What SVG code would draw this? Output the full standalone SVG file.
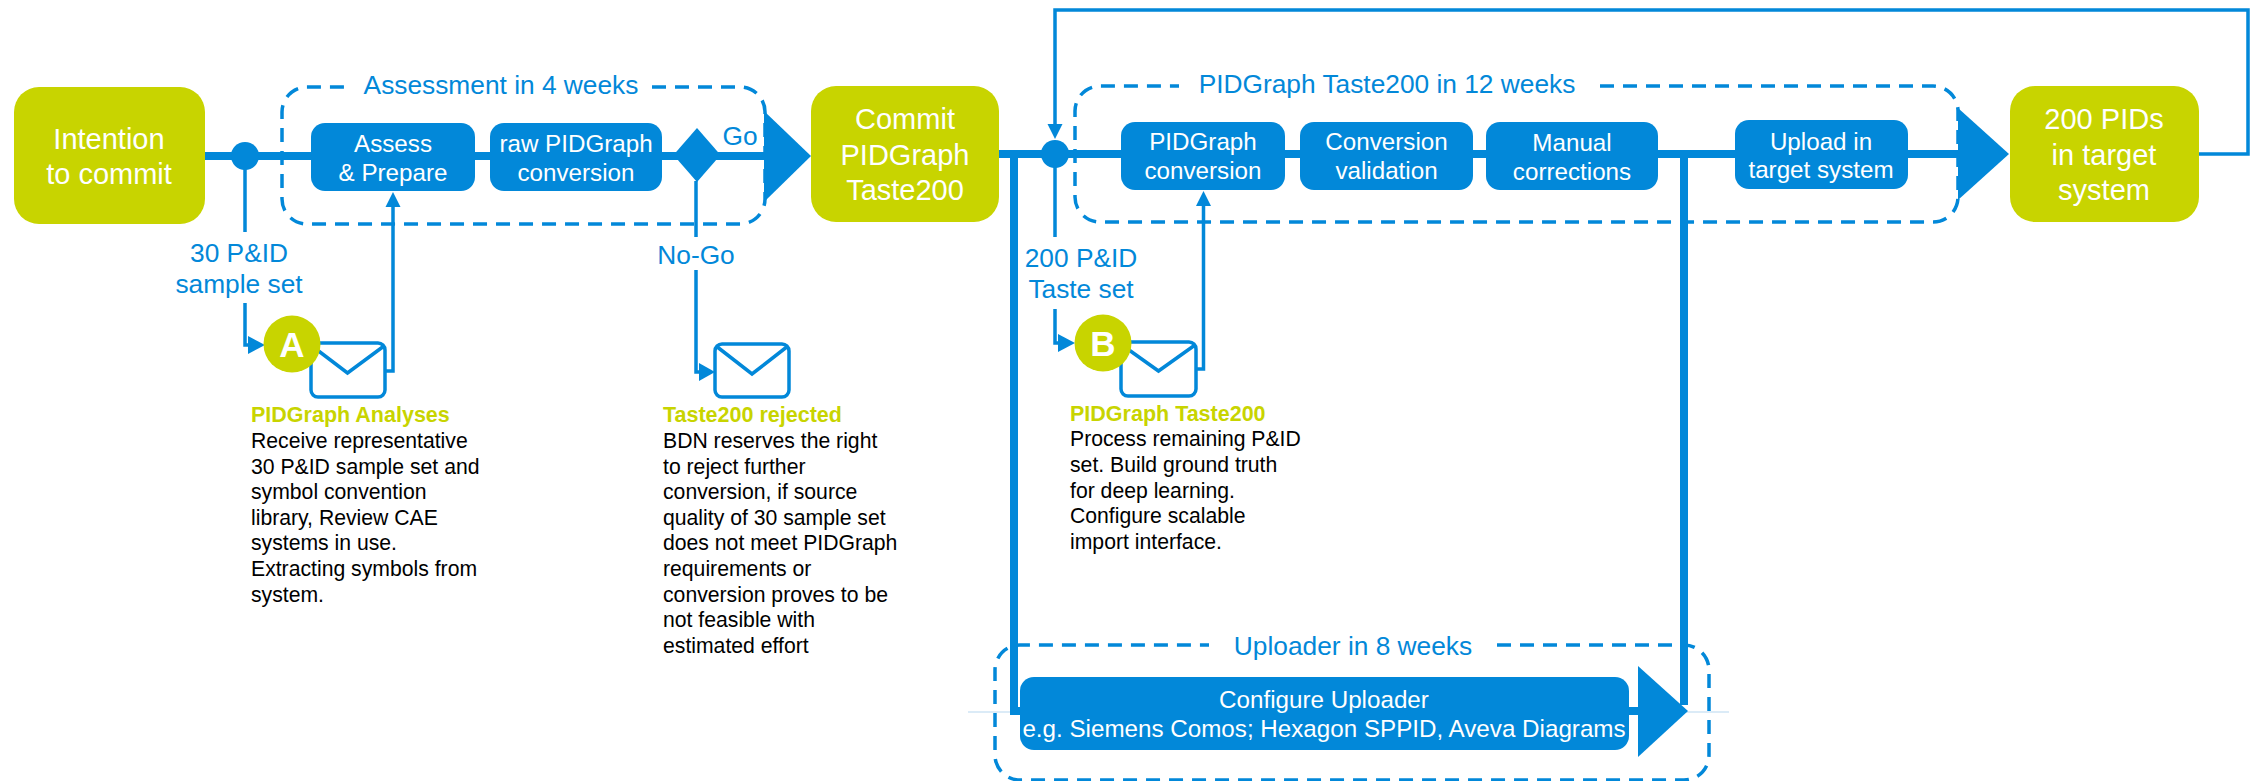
<svg xmlns="http://www.w3.org/2000/svg" width="2250" height="781" viewBox="0 0 2250 781">
<style>
text{font-family:"Liberation Sans",Arial,sans-serif}
.big{fill:#c8d400}
.task{fill:#0288d9}
.t29{font-size:29px;fill:#fff;text-anchor:middle}
.t24{font-size:24.200px;fill:#fff;text-anchor:middle}
.lab{font-size:26.300px;fill:#0288d9;text-anchor:middle}
.letter{font-size:35px;font-weight:bold;fill:#fff;text-anchor:middle}
.head{font-size:21.500px;font-weight:bold;fill:#c8d400}
.body{font-size:21.200px;fill:#000}
.dash{fill:none;stroke:#0288d9;stroke-width:3.5;stroke-dasharray:14 9}
.thick{fill:none;stroke:#0288d9;stroke-width:8}
.thin{fill:none;stroke:#0288d9;stroke-width:3.5}
.faint{fill:none;stroke:#cfe5f5;stroke-width:1.5}
.arrow{fill:#0288d9}
.env{fill:#fff;stroke:#0288d9;stroke-width:3.5}
.envv{fill:none;stroke:#0288d9;stroke-width:3.5}
</style>

<g id="frames">
<path class="dash" d="M652 87H740A25 25 0 0 1 765 112V199A25 25 0 0 1 740 224H307A25 25 0 0 1 282 199V112A25 25 0 0 1 307 87H350"/>
<path class="dash" d="M1600 86H1933A25 25 0 0 1 1958 111V197A25 25 0 0 1 1933 222H1100A25 25 0 0 1 1075 197V111A25 25 0 0 1 1100 86H1179"/>
<path class="dash" d="M1497 645H1684A25 25 0 0 1 1709 670V755A25 25 0 0 1 1684 780H1020A25 25 0 0 1 995 755V670A25 25 0 0 1 1020 645H1209"/>
<text class="lab" x="501" y="94">Assessment in 4 weeks</text>
<text class="lab" x="1387" y="93">PIDGraph Taste200 in 12 weeks</text>
<text class="lab" x="1353" y="655">Uploader in 8 weeks</text>
</g>

<g id="connectors">
<path class="faint" d="M968 712H1729"/>
<path class="thick" d="M202 156H770"/>
<path class="thick" d="M998 154H1965"/>
<path class="thick" d="M1014 154V711H1645"/>
<path class="thick" d="M1684 154V705"/>
<path class="arrow" d="M764 111L811 156L764 202Z"/>
<path class="arrow" d="M1958 108L2009 154L1958 200Z"/>
<path class="arrow" d="M1638 666L1688 711L1638 757Z"/>
<path class="thin" d="M245 156V232M245 303V345H250"/>
<path class="arrow" d="M248 336L265 345L248 354Z"/>
<path class="thin" d="M385 371H393V205"/>
<path class="arrow" d="M385.500 207L393 192L400.500 207Z"/>
<path class="thin" d="M696 181V237M696 270V372H701"/>
<path class="arrow" d="M699 363L715 372L699 381Z"/>
<path class="thin" d="M2198 154H2248V10H1055V126"/>
<path class="arrow" d="M1047.500 124L1055 139L1062.500 124Z"/>
<path class="thin" d="M1055 154V237M1055 309V343H1060"/>
<path class="arrow" d="M1058 334L1075 343L1058 352Z"/>
<path class="thin" d="M1196 369H1203.500V205"/>
<path class="arrow" d="M1196 206L1203.500 191L1211 206Z"/>
<circle class="arrow" cx="245" cy="156" r="14"/>
<circle class="arrow" cx="1055" cy="154" r="14"/>
</g>

<g id="intention"><rect class="big" x="14" y="87" width="191" height="137" rx="25"/>
<text class="t29" x="109" y="149">Intention</text><text class="t29" x="109" y="184">to commit</text></g>

<g id="assess"><rect class="task" x="311" y="123" width="164" height="68" rx="14"/>
<text class="t24" x="393" y="152">Assess</text><text class="t24" x="393" y="181">&amp; Prepare</text></g>

<g id="raw-conversion"><rect class="task" x="490" y="123" width="172" height="68" rx="14"/>
<text class="t24" x="576" y="152">raw PIDGraph</text><text class="t24" x="576" y="181">conversion</text></g>

<g id="decision"><path class="arrow" d="M697 128L720.500 155L697 182L673.500 155Z"/></g>
<text class="lab" x="740" y="145">Go</text>
<text class="lab" x="696" y="264">No-Go</text>
<text class="lab" x="239" y="262">30 P&amp;ID</text>
<text class="lab" x="239" y="293">sample set</text>
<text class="lab" x="1081" y="267">200 P&amp;ID</text>
<text class="lab" x="1081" y="298">Taste set</text>

<g id="commit"><rect class="big" x="811" y="86" width="188" height="136" rx="25"/>
<text class="t29" x="905" y="129">Commit</text><text class="t29" x="905" y="165">PIDGraph</text><text class="t29" x="905" y="200">Taste200</text></g>

<g id="pidgraph-conversion"><rect class="task" x="1121" y="122" width="164" height="68" rx="14"/>
<text class="t24" x="1203" y="150">PIDGraph</text><text class="t24" x="1203" y="179">conversion</text></g>

<g id="conversion-validation"><rect class="task" x="1300" y="122" width="173" height="68" rx="14"/>
<text class="t24" x="1386.500" y="150">Conversion</text><text class="t24" x="1386.500" y="179">validation</text></g>

<g id="manual-corrections"><rect class="task" x="1486" y="122" width="172" height="68" rx="14"/>
<text class="t24" x="1572" y="151">Manual</text><text class="t24" x="1572" y="180">corrections</text></g>

<g id="upload"><rect class="task" x="1735" y="120" width="173" height="69" rx="14"/>
<text class="t24" x="1821" y="150">Upload in</text><text class="t24" x="1821" y="178">target system</text></g>

<g id="target"><rect class="big" x="2010" y="86" width="189" height="136" rx="25"/>
<text class="t29" x="2104" y="129">200 PIDs</text><text class="t29" x="2104" y="165">in target</text><text class="t29" x="2104" y="200">system</text></g>

<g id="uploader"><rect class="task" x="1020" y="677" width="609" height="73" rx="14"/>
<text class="t24" x="1324" y="708">Configure Uploader</text>
<text class="t24" x="1324" y="737">e.g. Siemens Comos; Hexagon SPPID, Aveva Diagrams</text></g>

<g id="mail-a"><rect class="env" x="311" y="343" width="74" height="54" rx="7"/>
<path class="envv" d="M312 346L347.500 373L384 346"/>
<circle class="big" cx="292" cy="344" r="28.500"/>
<text class="letter" x="292" y="357">A</text></g>

<g id="mail-rejected"><rect class="env" x="715" y="344" width="74" height="53" rx="7"/>
<path class="envv" d="M716 346L752 374L788 346"/></g>

<g id="mail-b"><rect class="env" x="1121" y="342" width="75" height="54" rx="7"/>
<path class="envv" d="M1122 345L1158.500 371L1195 345"/>
<circle class="big" cx="1103" cy="343" r="28.500"/>
<text class="letter" x="1103" y="356">B</text></g>

<g id="note-a">
<text class="head" x="251" y="422">PIDGraph Analyses</text>
<text class="body" x="251" y="448">Receive representative</text>
<text class="body" x="251" y="474">30 P&amp;ID sample set and</text>
<text class="body" x="251" y="499">symbol convention</text>
<text class="body" x="251" y="525">library, Review CAE</text>
<text class="body" x="251" y="550">systems in use.</text>
<text class="body" x="251" y="576">Extracting symbols from</text>
<text class="body" x="251" y="602">system.</text>
</g>

<g id="note-rejected">
<text class="head" x="663" y="422">Taste200 rejected</text>
<text class="body" x="663" y="448">BDN reserves the right</text>
<text class="body" x="663" y="474">to reject further</text>
<text class="body" x="663" y="499">conversion, if source</text>
<text class="body" x="663" y="525">quality of 30 sample set</text>
<text class="body" x="663" y="550">does not meet PIDGraph</text>
<text class="body" x="663" y="576">requirements or</text>
<text class="body" x="663" y="602">conversion proves to be</text>
<text class="body" x="663" y="627">not feasible with</text>
<text class="body" x="663" y="653">estimated effort</text>
</g>

<g id="note-b">
<text class="head" x="1070" y="421">PIDGraph Taste200</text>
<text class="body" x="1070" y="446">Process remaining P&amp;ID</text>
<text class="body" x="1070" y="472">set. Build ground truth</text>
<text class="body" x="1070" y="498">for deep learning.</text>
<text class="body" x="1070" y="523">Configure scalable</text>
<text class="body" x="1070" y="549">import interface.</text>
</g>
</svg>
